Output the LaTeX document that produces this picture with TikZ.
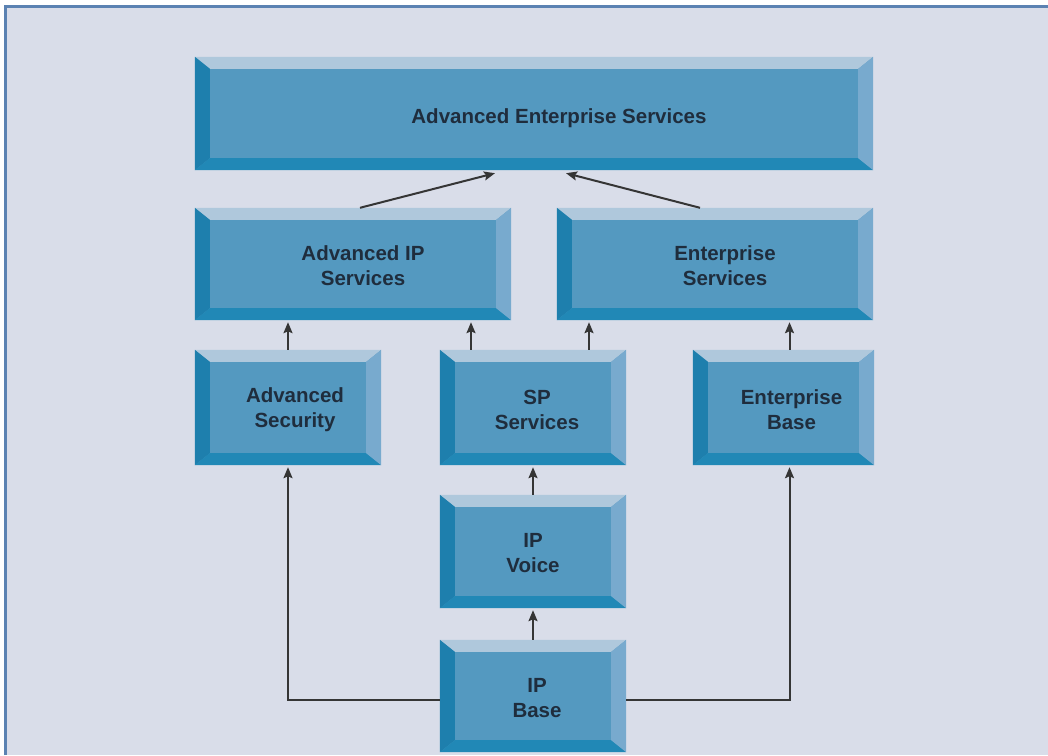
\documentclass[tikz,border=0pt]{standalone}
\usepackage{fontspec}
\setmainfont{Liberation Sans}
\usetikzlibrary{calc,arrows.meta}

% bevelled frame round a named block
\newcommand{\bevel}[1]{%
  \fill[bevtop] (#1.north west) -- (#1.north east) -- ($(#1.north east)+(-15,-12)$) -- ($(#1.north west)+(15,-12)$) -- cycle;
  \fill[bevleft] (#1.north west) -- ($(#1.north west)+(15,-12)$) -- ($(#1.south west)+(15,12)$) -- (#1.south west) -- cycle;
  \fill[bevbottom] (#1.south west) -- ($(#1.south west)+(15,12)$) -- ($(#1.south east)+(-15,12)$) -- (#1.south east) -- cycle;
  \fill[bevright] (#1.north east) -- ($(#1.north east)+(-15,-12)$) -- ($(#1.south east)+(-15,12)$) -- (#1.south east) -- cycle;
}

\begin{document}
\begin{tikzpicture}[x=1pt,y=1pt]

  \definecolor{face}{HTML}{5499C0}
  \definecolor{captop}{HTML}{AFC8DC}
  \definecolor{capleft}{HTML}{1E7FAD}
  \definecolor{capbottom}{HTML}{2188B6}
  \definecolor{capright}{HTML}{78AACE}
  \definecolor{ink}{HTML}{1F2D3D}
  \definecolor{paper}{HTML}{D9DDE9}
  \definecolor{frame}{HTML}{5B82B2}
  \definecolor{linkgray}{HTML}{353535}

  \tikzstyle{block} = [fill=face, inner sep=0pt]
  \tikzstyle{lbl} = [text=ink, align=center, inner sep=0pt, yshift=-2pt,
                     font=\fontsize{20.5}{25}\selectfont\bfseries]
  \tikzstyle{bevtop} = [fill=captop]
  \tikzstyle{bevleft} = [fill=capleft]
  \tikzstyle{bevbottom} = [fill=capbottom]
  \tikzstyle{bevright} = [fill=capright]
  \tikzstyle{link} = [draw=linkgray, line width=2pt, -{Stealth[length=11pt,width=9pt,inset=2pt]}]

  \useasboundingbox (0,0) rectangle (1048,755);
  \fill[white] (0,0) rectangle (1048,755);
  \fill[paper] (5,0) rectangle (1048,748);
  \draw[frame, line width=3pt] (5,0) -- (5,748) -- (1048,748);

  % top row
  \node[block, minimum width=678pt, minimum height=113pt,
        label={[lbl,xshift=25pt,yshift=-3pt]center:Advanced Enterprise Services}] (aes) at (534,641.5) {};
  \bevel{aes}

  % second row
  \node[block, minimum width=316pt, minimum height=112pt,
        label={[lbl,xshift=10pt]center:{Advanced IP\\Services}}] (aip) at (353,491) {};
  \bevel{aip}
  \node[block, minimum width=316pt, minimum height=112pt,
        label={[lbl,xshift=10pt]center:{Enterprise\\Services}}] (es) at (715,491) {};
  \bevel{es}

  % third row
  \node[block, minimum width=186pt, minimum height=115pt,
        label={[lbl,xshift=7pt]center:{Advanced\\Security}}] (asec) at (288,347.5) {};
  \bevel{asec}
  \node[block, minimum width=186pt, minimum height=115pt,
        label={[lbl,xshift=4pt]center:{SP\\Services}}] (sp) at (533,347.5) {};
  \bevel{sp}
  \node[block, minimum width=181pt, minimum height=115pt,
        label={[lbl,xshift=8pt]center:{Enterprise\\Base}}] (eb) at (783.5,347.5) {};
  \bevel{eb}

  % bottom column
  \node[block, minimum width=186pt, minimum height=113pt,
        label={[lbl]center:{IP\\Voice}}] (ipv) at (533,203.5) {};
  \bevel{ipv}
  \node[block, minimum width=186pt, minimum height=112pt,
        label={[lbl,xshift=4pt]center:{IP\\Base}}] (ipb) at (533,59) {};
  \bevel{ipb}

  % connectors
  \coordinate (sp1) at ($(sp.north)+(-62,0)$);
  \coordinate (sp2) at ($(sp.north)+(56,0)$);
  \coordinate (eb1) at ($(eb.north)+(6,0)$);
  \coordinate (eb2) at ($(eb.south)+(6,0)$);
  \coordinate (ipb1) at ($(ipb.west)+(0,-4)$);
  \coordinate (ipb2) at ($(ipb.east)+(0,-4)$);

  \draw[link] ($(aip.north)+(7,0)$) -- ($(aes.south)+(-39,-3)$);
  \draw[link] ($(es.north)+(-15,0)$) -- ($(aes.south)+(32,-3)$);

  \draw[link, shorten >=2pt] (asec.north) -- (asec.north |- aip.south);
  \draw[link, shorten >=2pt] (sp1) -- (sp1 |- aip.south);
  \draw[link, shorten >=2pt] (sp2) -- (sp2 |- es.south);
  \draw[link, shorten >=2pt] (eb1) -- (eb1 |- es.south);

  \draw[link, shorten >=2pt] (ipv.north) -- (sp.south);
  \draw[link, shorten >=2pt] (ipb.north) -- (ipv.south);
  \draw[link, shorten >=2pt] (ipb1) -| (asec.south);
  \draw[link, shorten >=2pt] (ipb2) -| (eb2);

\end{tikzpicture}
\end{document}
